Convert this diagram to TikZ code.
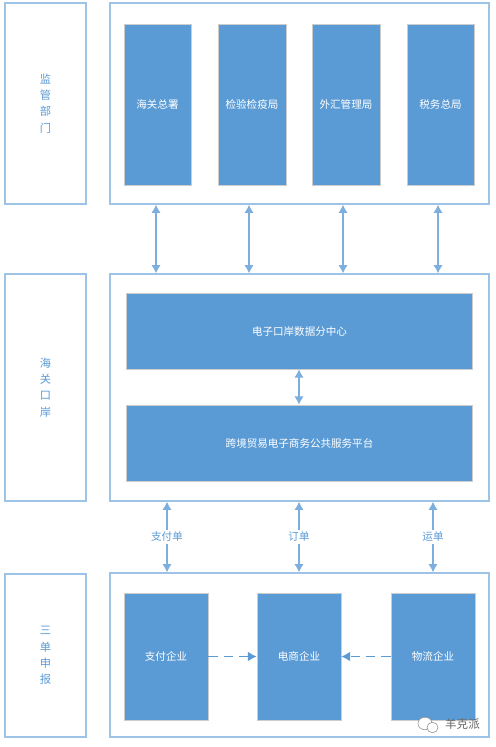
\documentclass[tikz,border=0pt]{standalone}
\usepackage{fontspec}
\newfontfamily\cjk{Noto Sans CJK SC}
\usetikzlibrary{arrows.meta,shadows,shapes.geometric}
\definecolor{barblue}{HTML}{5B9BD5}
\definecolor{edgeblue}{HTML}{9DC3E6}
\tikzset{
  panel/.style={draw=edgeblue,line width=.9pt,fill=white,inner sep=0pt,align=center,drop shadow={shadow xshift=.3pt,shadow yshift=-.6pt,opacity=.15,fill=barblue}},
  unit/.style={draw=black!20,line width=.5pt,fill=barblue,text=white,font=\cjk\fontsize{6}{7}\selectfont,align=center,inner sep=0pt,drop shadow={shadow xshift=.3pt,shadow yshift=-.6pt,opacity=.2,fill=black!60}},
  sidetext/.style={text=barblue,font=\cjk\fontsize{6.4}{9.2}\selectfont},
  linktext/.style={fill=white,text=barblue,font=\cjk\fontsize{6}{7}\selectfont,inner sep=1.2pt},
  link/.style={draw=barblue!80,line width=.6pt,{Latex[length=4.6pt,width=5.2pt]}-{Latex[length=4.6pt,width=5.2pt]}},
  dashlink/.style={draw=barblue,line width=.7pt,dash pattern=on 5.6pt off 3pt,-{Latex[length=5pt,width=5.6pt]}},
  bubble/.style={ellipse,draw=black!40,line width=.35pt,fill=white,inner sep=0pt}
}
\begin{document}
\begin{tikzpicture}[x=.02cm,y=-.02cm]
\useasboundingbox (0,0) rectangle (495,747);
% left column
\node[panel,sidetext,minimum width=1.62cm,minimum height=4.02cm] (side1) at (45.5,103.5) {监\\管\\部\\门};
\node[panel,sidetext,minimum width=1.62cm,minimum height=4.54cm] (side2) at (45.5,387.5) {海\\关\\口\\岸};
\node[panel,sidetext,minimum width=1.62cm,minimum height=3.26cm] (side3) at (45.5,655.5) {三\\单\\申\\报};
% right column
\node[panel,minimum width=7.58cm,minimum height=4.02cm] (top) at (299.5,103.5) {};
\node[panel,minimum width=7.58cm,minimum height=4.54cm] (mid) at (299.5,387.5) {};
\node[panel,minimum width=7.58cm,minimum height=3.28cm] (low) at (299.5,655) {};
% top row
\node[unit,minimum width=1.34cm,minimum height=3.22cm] (hg) at (157.5,104.5) {海关总署};
\node[unit,minimum width=1.36cm,minimum height=3.22cm] (jy) at (252,104.5) {检验检疫局};
\node[unit,minimum width=1.36cm,minimum height=3.22cm] (wh) at (346,104.5) {外汇管理局};
\node[unit,minimum width=1.34cm,minimum height=3.22cm] (sw) at (440.5,104.5) {税务总局};
% middle bars
\node[unit,minimum width=6.92cm,minimum height=1.52cm] (dc) at (299.5,331) {电子口岸数据分中心};
\node[unit,minimum width=6.92cm,minimum height=1.52cm] (pf) at (299.5,443) {跨境贸易电子商务公共服务平台};
% bottom row
\node[unit,minimum width=1.68cm,minimum height=2.54cm] (zf) at (166,656.5) {支付企业};
\node[unit,minimum width=1.68cm,minimum height=2.54cm] (ds) at (299,656.5) {电商企业};
\node[unit,minimum width=1.68cm,minimum height=2.54cm] (wl) at (433,656.5) {物流企业};
% links between top and mid
\foreach \tx in {156,249,343,438}{
  \coordinate (cx) at (\tx,0);
  \draw[link] (top.south -| cx) -- (mid.north -| cx);
}
\coordinate (cx) at (299,0);
\draw[link] (dc.south -| cx) -- (pf.north -| cx);
% links with labels
\foreach \tx/\lbl/\txt in {167/lb1/支付单,299/lb2/订单,433/lb3/运单}{
  \coordinate (cx) at (\tx,0);
  \draw[link] (mid.south -| cx) -- node[linktext] (\lbl) {\txt} (low.north -| cx);
}
\draw[dashlink] (zf) -- (ds);
\draw[dashlink] (wl) -- (ds);
% mark in the corner
\node[bubble,minimum width=.28cm,minimum height=.25cm] (bub1) at (425,723.5) {};
\node[bubble,minimum width=.22cm,minimum height=.21cm] (bub2) at (432.5,727.5) {};
\node[text=black!60,font=\cjk\fontsize{6.6}{7}\selectfont,inner sep=0pt] (mark) at (462.5,724.5) {羊克派};
\end{tikzpicture}
\end{document}
